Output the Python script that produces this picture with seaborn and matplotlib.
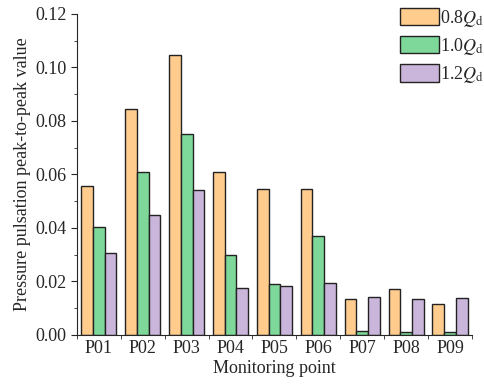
import numpy as np
import pandas as pd
import matplotlib
matplotlib.use('Agg')
import matplotlib.pyplot as plt
import seaborn as sns
from matplotlib.ticker import MultipleLocator, FixedLocator, FormatStrFormatter

points = ['P01', 'P02', 'P03', 'P04', 'P05', 'P06', 'P07', 'P08', 'P09']
q08 = [0.0558, 0.0843, 0.1047, 0.0607, 0.0545, 0.0547, 0.0135, 0.0173, 0.0117]
q10 = [0.0403, 0.0608, 0.0750, 0.0300, 0.0189, 0.0368, 0.0013, 0.0010, 0.0010]
q12 = [0.0306, 0.0447, 0.0543, 0.0176, 0.0182, 0.0192, 0.0143, 0.0133, 0.0136]
labels = [r'0.8$Q_\mathrm{d}$', r'1.0$Q_\mathrm{d}$', r'1.2$Q_\mathrm{d}$']
colors = ['#FFCC8E', '#7DD89A', '#CBB6DB']

sns.set_style('ticks')
plt.rcParams['font.family'] = ['Liberation Serif', 'DejaVu Serif']
plt.rcParams['mathtext.fontset'] = 'stix'

df = pd.DataFrame({
    'point': points * 3,
    'value': q08 + q10 + q12,
    'flow': [labels[0]] * 9 + [labels[1]] * 9 + [labels[2]] * 9,
})

fig = plt.figure(figsize=(4.84, 3.84), dpi=100)
ax = fig.add_axes([0.159, 0.128, 0.816, 0.836])
sns.barplot(data=df, x='point', y='value', hue='flow', palette=colors,
            saturation=1, width=0.8, edgecolor='#222222', linewidth=1, ax=ax)

ax.set_xlim(-0.5, 8.5)
ax.set_ylim(0, 0.12)
ax.yaxis.set_major_locator(MultipleLocator(0.02))
ax.yaxis.set_minor_locator(MultipleLocator(0.01))
ax.yaxis.set_major_formatter(FormatStrFormatter('%.2f'))
ax.xaxis.set_minor_locator(FixedLocator(np.arange(-0.5, 9, 1)))
ax.tick_params(axis='x', which='major', length=0, labelsize=13, pad=4)
ax.tick_params(axis='x', which='minor', length=3, direction='out')
ax.tick_params(axis='y', which='major', length=4, labelsize=13, direction='out')
ax.tick_params(axis='y', which='minor', length=2.5, direction='out')
sns.despine(ax=ax)
ax.set_xlabel('Monitoring point', fontsize=13, labelpad=2)
ax.set_ylabel('Pressure pulsation peak-to-peak value', fontsize=13, labelpad=3)

ax.legend(loc='upper right', bbox_to_anchor=(1.0, 0.98),
          bbox_transform=fig.transFigure, frameon=False,
          fontsize=13, handlelength=2.2, handleheight=1.1, handletextpad=0.05,
          labelspacing=0.4, borderaxespad=0, borderpad=0)

fig.savefig('out.png', dpi=100)
